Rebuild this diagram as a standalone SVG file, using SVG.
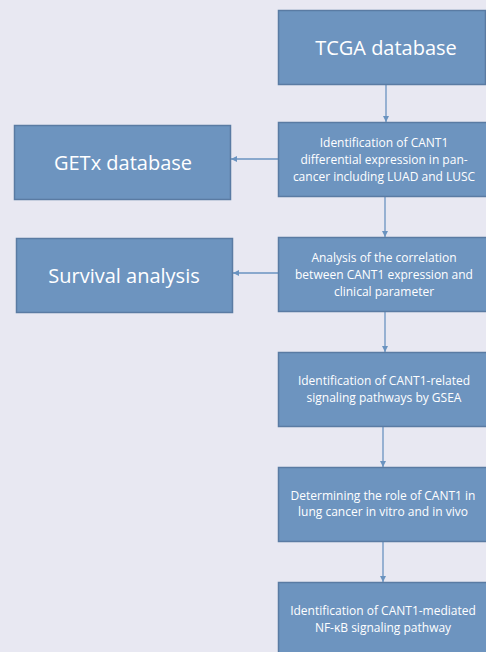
<svg xmlns="http://www.w3.org/2000/svg" width="486" height="652" viewBox="0 0 486 652">
<defs>
<style>
.box{fill:#6d94bf;stroke:#5a7ba3;stroke-width:1.5}
.big{font-family:"Open Sans","Liberation Sans",sans-serif;font-size:20px;fill:#ffffff;text-anchor:middle}
.sm{font-family:"Open Sans","Liberation Sans",sans-serif;font-size:12px;fill:#ffffff;text-anchor:middle}
.c{stroke:#6a93c0;stroke-width:1.3;fill:none;marker-end:url(#a)}
</style>
<marker id="a" viewBox="0 0 10 10" refX="10" refY="5" markerWidth="6" markerHeight="6" markerUnits="userSpaceOnUse" orient="auto">
<path d="M0,0 L10,5 L0,10 z" fill="#6a93c0"/>
</marker>
</defs>
<rect width="486" height="652" fill="#e8e8f2"/>
<g id="connectors">
<line class="c" x1="386" y1="84" x2="386" y2="122"/>
<line class="c" x1="385" y1="196" x2="385" y2="237"/>
<line class="c" x1="385" y1="311" x2="385" y2="352"/>
<line class="c" x1="383" y1="426" x2="383" y2="467"/>
<line class="c" x1="383" y1="541" x2="383" y2="582"/>
<line class="c" x1="279" y1="159" x2="231" y2="159"/>
<line class="c" x1="279" y1="273" x2="233" y2="273"/>
</g>
<g id="tcga"><rect class="box" x="278.5" y="10.5" width="207" height="74"/><text class="big" x="386" y="55">TCGA database</text></g>
<g id="diff"><rect class="box" x="278.5" y="122.5" width="210" height="74"/><text class="sm" x="384" y="147">Identification of CANT1</text><text class="sm" x="384" y="164">differential expression in pan-</text><text class="sm" x="384" y="181">cancer including LUAD and LUSC</text></g>
<g id="corr"><rect class="box" x="278.5" y="237.5" width="210" height="74"/><text class="sm" x="384" y="262">Analysis of the correlation</text><text class="sm" x="384" y="279">between CANT1 expression and</text><text class="sm" x="384" y="296">clinical parameter</text></g>
<g id="gsea"><rect class="box" x="278.5" y="352.5" width="210" height="74"/><text class="sm" x="384" y="385">Identification of CANT1-related</text><text class="sm" x="384" y="402">signaling pathways by GSEA</text></g>
<g id="role"><rect class="box" x="278.5" y="467.5" width="210" height="74"/><text class="sm" x="383" y="500">Determining the role of CANT1 in</text><text class="sm" x="383" y="516">lung cancer in vitro and in vivo</text></g>
<g id="nfkb"><rect class="box" x="278.5" y="582.5" width="210" height="74"/><text class="sm" x="383" y="615">Identification of CANT1-mediated</text><text class="sm" x="383" y="632">NF-κB signaling pathway</text></g>
<g id="getx"><rect class="box" x="14.5" y="125.5" width="216" height="74"/><text class="big" x="123" y="170">GETx database</text></g>
<g id="survival"><rect class="box" x="16.5" y="238.5" width="216" height="74"/><text class="big" x="124" y="283">Survival analysis</text></g>
</svg>
